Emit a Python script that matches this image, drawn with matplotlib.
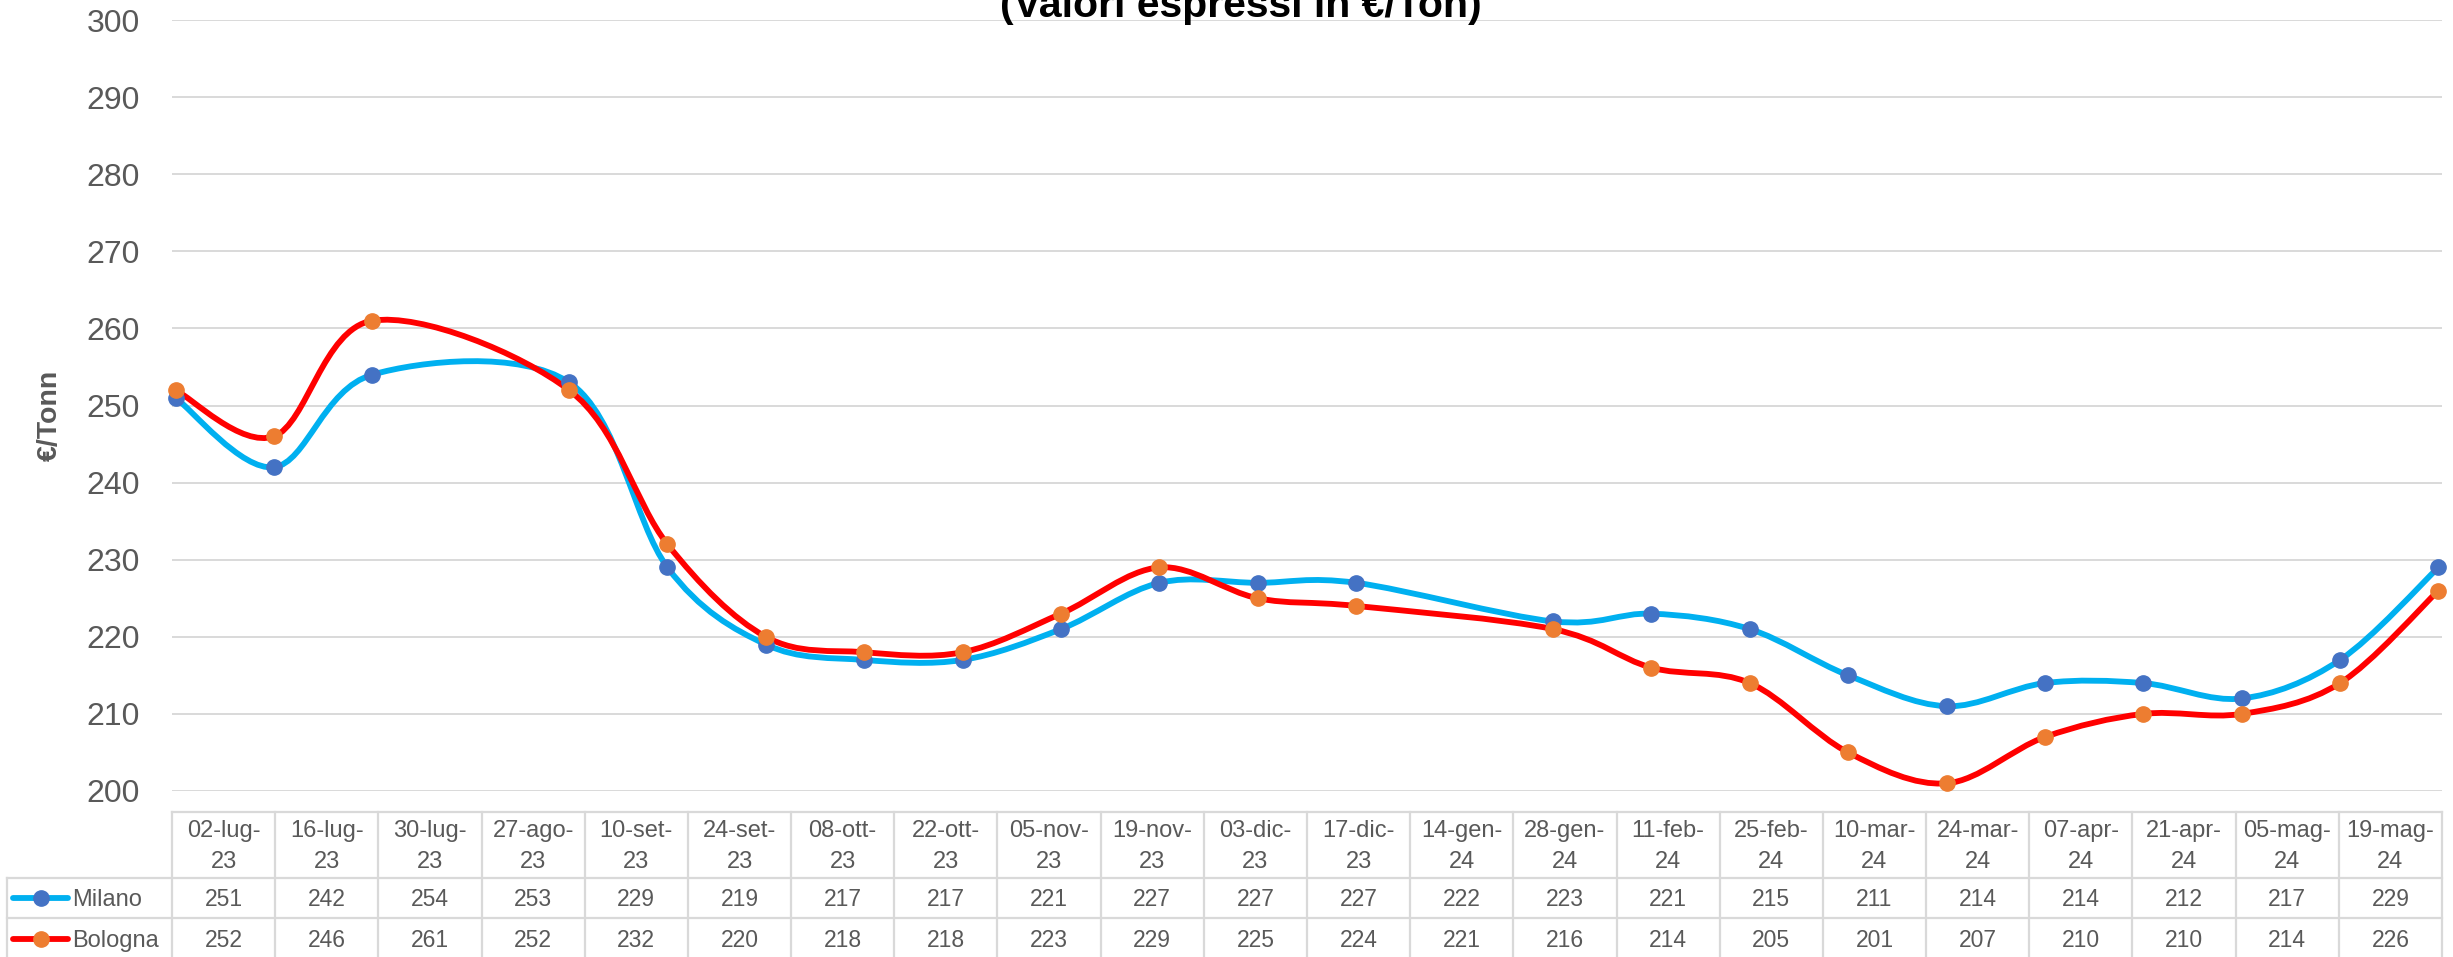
import numpy as np
import matplotlib
matplotlib.use("Agg")
import matplotlib.pyplot as plt
from matplotlib.path import Path
from matplotlib.patches import PathPatch

plt.rcParams['font.family'] = ['Liberation Sans', 'DejaVu Sans']

# data
dates = ["2023-07-02", "2023-07-16", "2023-07-30", "2023-08-27", "2023-09-10", "2023-09-24",
         "2023-10-08", "2023-10-22", "2023-11-05", "2023-11-19", "2023-12-03", "2023-12-17",
         "2024-01-14", "2024-01-28", "2024-02-11", "2024-02-25", "2024-03-10", "2024-03-24",
         "2024-04-07", "2024-04-21", "2024-05-05", "2024-05-19"]
labels = ["02-lug-23", "16-lug-23", "30-lug-23", "27-ago-23", "10-set-23", "24-set-23",
          "08-ott-23", "22-ott-23", "05-nov-23", "19-nov-23", "03-dic-23", "17-dic-23",
          "14-gen-24", "28-gen-24", "11-feb-24", "25-feb-24", "10-mar-24", "24-mar-24",
          "07-apr-24", "21-apr-24", "05-mag-24", "19-mag-24"]
milano = [251, 242, 254, 253, 229, 219, 217, 217, 221, 227, 227, 227,
          222, 223, 221, 215, 211, 214, 214, 212, 217, 229]
bologna = [252, 246, 261, 252, 232, 220, 218, 218, 223, 229, 225, 224,
           221, 216, 214, 205, 201, 207, 210, 210, 214, 226]

series = [("Milano", milano, "#00B0F0", "#4472C4"),
          ("Bologna", bologna, "#FF0000", "#ED7D31")]

d = np.array(dates, dtype="datetime64[D]")
days = (d - d[0]).astype(float)

W, H = 2453, 957
GREY = "#595959"
LINE = "#D9D9D9"


def smooth_path(x, y):
    # excel-like smoothed line (catmull-rom as cubic bezier)
    p = np.column_stack([x, y])
    n = len(p)
    verts = [p[0]]
    codes = [Path.MOVETO]
    for i in range(n - 1):
        p0 = p[i - 1] if i > 0 else p[0]
        p1, p2 = p[i], p[i + 1]
        p3 = p[i + 2] if i + 2 < n else p[-1]
        verts += [p1 + (p2 - p0) / 6, p2 - (p3 - p1) / 6, p2]
        codes += [Path.CURVE4] * 3
    return Path(verts, codes)


fig = plt.figure(figsize=(W / 100, H / 100), dpi=100)

left, right, top, bottom = 172, 2442, 20, 791
ax = fig.add_axes([left / W, 1 - bottom / H, (right - left) / W, (bottom - top) / H])
ax.set_xlim(-0.5, days[-1] + 0.5)
ax.set_ylim(200, 300)
ax.set_yticks(np.arange(200, 301, 10))
ax.set_xticks([])
ax.yaxis.grid(True, color=LINE, lw=1.4)
ax.set_axisbelow(True)
for s in ax.spines.values():
    s.set_visible(False)
ax.tick_params(axis='y', length=0, pad=23, labelsize=23, labelcolor=GREY)

for name, vals, lc, mc in series:
    ax.add_patch(PathPatch(smooth_path(days, vals), facecolor='none', edgecolor=lc,
                           lw=4.2, capstyle='round', joinstyle='round', zorder=3))
    ax.plot(days, vals, 'o', ms=11, color=mc, zorder=4, clip_on=False)

fig.text(0.0205, 1 - 415 / H, "€/Tonn", rotation=90, ha='center', va='center',
         fontsize=20.5, fontweight='bold', color=GREY)
fig.text(0.506, 1 - 17 / H, "(Valori espressi in €/Ton)", ha='center', va='baseline',
         fontsize=29.5, fontweight='bold', color='black')

# data table under the chart
tab = fig.add_axes([0, 0, 1, 1], zorder=-1)
tab.set_xlim(0, W)
tab.set_ylim(H, 0)
tab.axis('off')

edges = np.linspace(left, right, len(labels) + 1)
centers = (edges[:-1] + edges[1:]) / 2
y_head, y_r1, y_r2, y_r3 = 812, 878, 918, 959
lw_t = 1.6

tab.plot([left, right], [y_head, y_head], color=LINE, lw=lw_t)
for yy in (y_r1, y_r2, y_r3):
    tab.plot([6.5, right], [yy, yy], color=LINE, lw=lw_t)
for xx in edges:
    tab.plot([xx, xx], [y_head, y_r3], color=LINE, lw=lw_t)
tab.plot([6.5, 6.5], [y_r1, y_r3], color=LINE, lw=lw_t)

for cx, lab in zip(centers, labels):
    a, b = lab.rsplit("-", 1)
    tab.text(cx, 837, a + "-", ha='center', va='baseline', fontsize=17, color=GREY)
    tab.text(cx, 868.5, b, ha='center', va='baseline', fontsize=17, color=GREY)

for (name, vals, lc, mc), (r0, r1) in zip(series, [(y_r1, y_r2), (y_r2, y_r3)]):
    yc = (r0 + r1) / 2
    for cx, v in zip(centers, vals):
        tab.text(cx, yc + 8.5, str(v), ha='center', va='baseline', fontsize=16.5, color=GREY)
    tab.plot([13, 68], [yc, yc], color=lc, lw=4.2, solid_capstyle='round')
    tab.plot([41], [yc], 'o', ms=11, color=mc)
    tab.text(72.5, yc + 8.5, name, ha='left', va='baseline', fontsize=17, color=GREY)

fig.savefig("out.png", dpi=100)
